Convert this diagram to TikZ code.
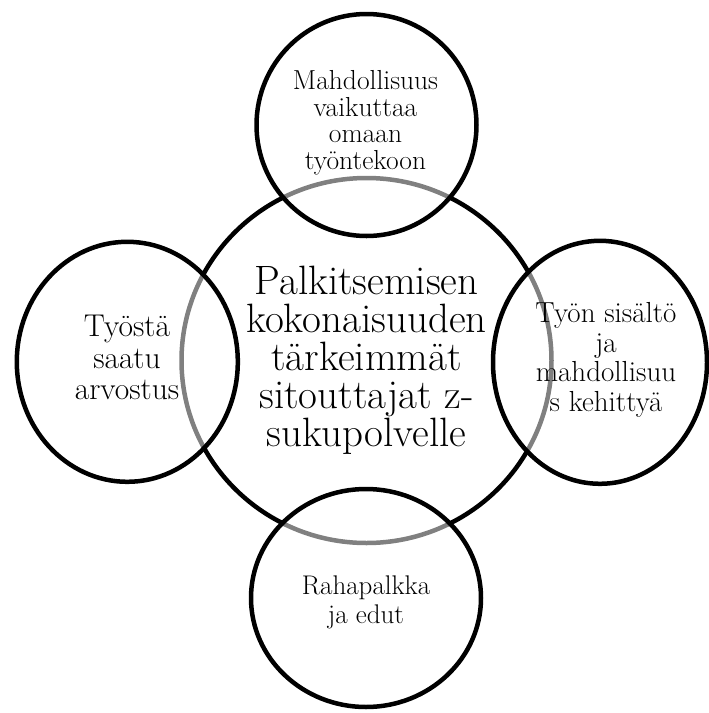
\documentclass[tikz,border=0pt]{standalone}
\usepackage{fontspec}
\usetikzlibrary{shapes.geometric}
\tikzset{
  ring/.style={ellipse, draw=black, line width=4.5pt, inner sep=0pt, minimum width=#1},
  outer/.style={fill=white, fill opacity=0.5, draw opacity=1},
  label/.style={align=center, inner sep=0pt, text=black}
}
\begin{document}
\begin{tikzpicture}[x=1pt,y=-1pt]
\useasboundingbox (0,0) rectangle (709,713);
% central circle
\node[ring=370pt, minimum height=365pt] (c0) at (366.5,360.5) {};
% outer circles, half-transparent white fill greys the central ring beneath
\node[ring=220pt, minimum height=222pt, outer] (c1) at (366.5,125) {};
\node[ring=221pt, minimum height=240pt, outer] (c2) at (127.3,361.8) {};
\node[ring=214pt, minimum height=243pt, outer] (c3) at (600,362.3) {};
\node[ring=230pt, minimum height=218pt, outer] (c4) at (366,598) {};
% texts
\node[label, font=\fontsize{41}{38}\selectfont] (t0) at (366.5,360.7)
  {Palkitsemisen\\kokonaisuuden\\tärkeimmät\\sitouttajat z-\\sukupolvelle};
\node[label, font=\fontsize{27.5}{26.7}\selectfont] (t1) at (365.5,122.7)
  {Mahdollisuus\\vaikuttaa\\omaan\\työntekoon};
\node[label, font=\fontsize{31.5}{31.5}\selectfont] (t2) at (127,357.7)
  {Työstä\\saatu\\arvostus};
\node[label, font=\fontsize{29}{29.5}\selectfont] (t3) at (606,360)
  {Työn sisältö\\ja\\mahdollisuu\\s kehittyä};
\node[label, font=\fontsize{27}{28.5}\selectfont] (t4) at (366,602.5)
  {Rahapalkka\\ja edut};
\end{tikzpicture}
\end{document}
